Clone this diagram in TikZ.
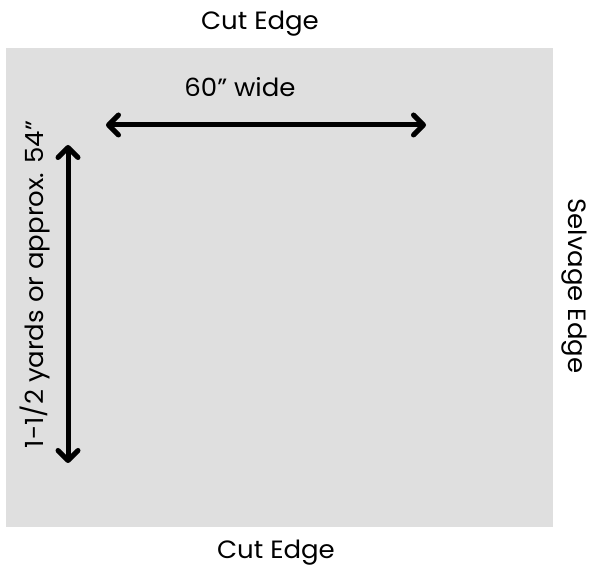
\documentclass[tikz,border=0pt]{standalone}
\usepackage{fontspec}
\setmainfont{Poppins}[FakeStretch=1.04]
\usetikzlibrary{arrows.meta}
\definecolor{fabric}{HTML}{DFDFDF}
\tikzset{
  edgetext/.style={font=\fontsize{25}{30}\selectfont,inner sep=0pt,anchor=base},
  dimline/.style={line width=5pt,line cap=round,
    {Straight Barb[length=10pt,width=20pt,line cap=round,round]}-{Straight Barb[length=10pt,width=20pt,line cap=round,round]}}
}
\begin{document}
\begin{tikzpicture}[x=1pt,y=-1pt]
  \useasboundingbox (0,0) rectangle (590,569);
  \fill[fabric] (6,48) rectangle (553,527);
  % edges of the piece
  \node[edgetext] (cuttop) at (260,30) {Cut Edge};
  \node[edgetext] (cutbot) at (276,559) {Cut Edge};
  \node[edgetext,rotate=-90] (selvage) at (568,286) {Selvage Edge};
  % measures
  \coordinate (w1) at (106,125);
  \coordinate (w2) at (426,125);
  \coordinate (l1) at (68,145);
  \coordinate (l2) at (68,463);
  \draw[dimline] (w1) -- (w2);
  \draw[dimline] (l1) -- (l2);
  \node[edgetext] (width) at (240,97) {60'' wide};
  \node[edgetext,rotate=90] (length) at (43,284.5) {1-1/2 yards or approx. 54''};
\end{tikzpicture}
\end{document}
